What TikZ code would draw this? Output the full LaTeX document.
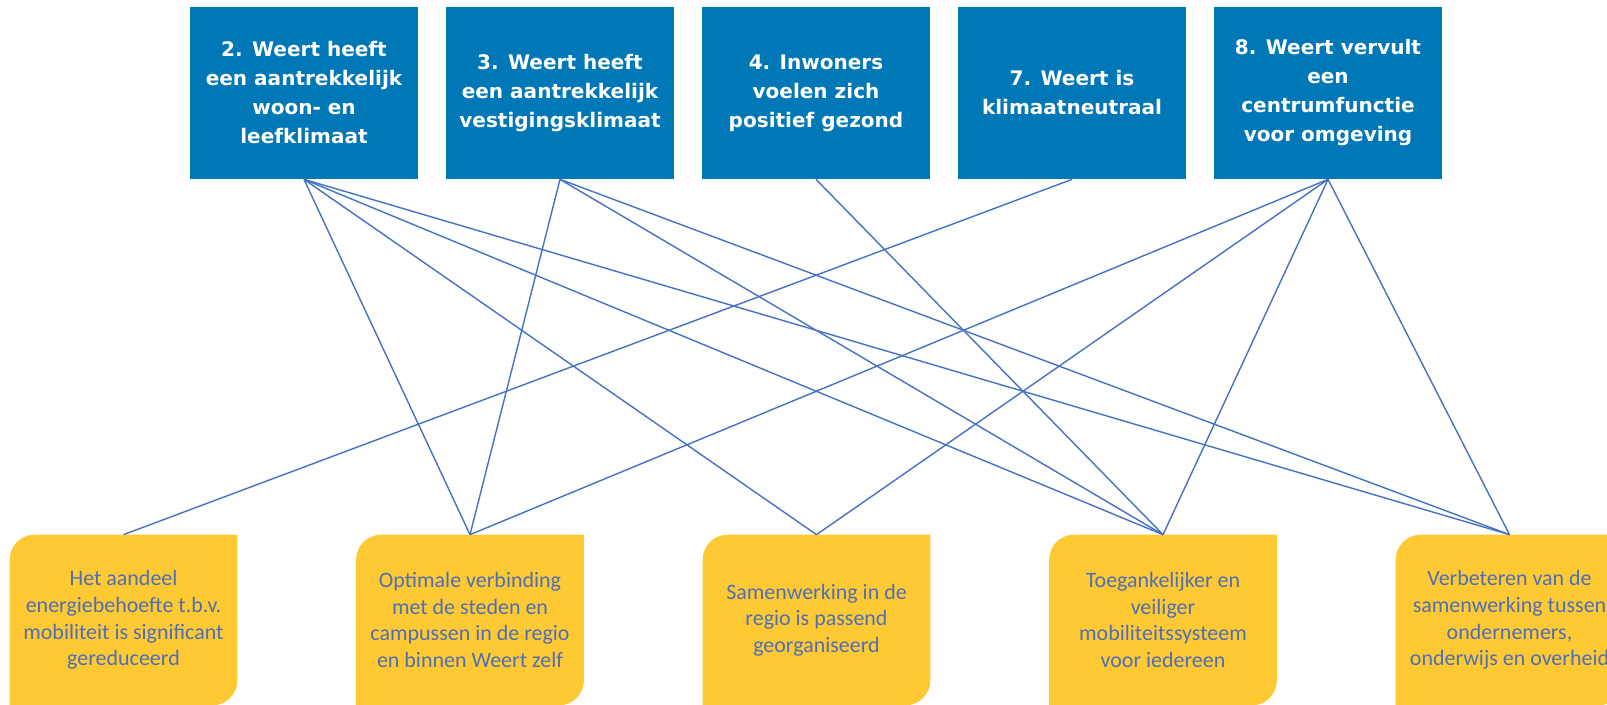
\documentclass[tikz,border=0pt]{standalone}
\usepackage{fontspec}
\setmainfont{Carlito}
\newfontfamily\goalfont{DejaVu Sans}
\usetikzlibrary{backgrounds}
\definecolor{goalblue}{HTML}{0077B6}
\definecolor{subyellow}{HTML}{FFC933}
\definecolor{linkblue}{HTML}{4472C4}
\definecolor{subtext}{HTML}{4F6FB5}

\begin{document}
\begin{tikzpicture}[
        node distance=5.12cm,
        goal/.style={rectangle, minimum width=4.56cm, minimum height=3.44cm, fill=goalblue, text=white, align=center, font=\goalfont\bfseries\fontsize{11.4}{16.5}\selectfont},
        sub/.style={rectangle, minimum width=4.54cm, minimum height=3.4cm, text=subtext, align=center, font=\fontsize{12.5}{15.2}\selectfont},
        link/.style={draw=linkblue, line width=0.8pt}
    ]
        \useasboundingbox (0,0) rectangle (32.14,14.08);

        \node[goal] (g2) at (6.08,12.22) {2. Weert heeft\\een aantrekkelijk\\woon- en\\leefklimaat};
        \node[goal, right of=g2] (g3) {3. Weert heeft\\een aantrekkelijk\\vestigingsklimaat};
        \node[goal, right of=g3] (g4) {4. Inwoners\\voelen zich\\positief gezond};
        \node[goal, right of=g4] (g7) {7. Weert is\\klimaatneutraal};
        \node[goal, right of=g7] (g8) {8. Weert vervult\\een\\centrumfunctie\\voor omgeving};

        \node[sub] (sa) at (2.47,1.68) {Het aandeel\\energiebehoefte t.b.v.\\mobiliteit is significant\\gereduceerd};
        \node[sub, right of=sa, xshift=1.81cm] (sb) {Optimale verbinding\\met de steden en\\campussen in de regio\\en binnen Weert zelf};
        \node[sub, right of=sb, xshift=1.81cm] (sc) {Samenwerking in de\\regio is passend\\georganiseerd};
        \node[sub, right of=sc, xshift=1.81cm] (sd) {Toegankelijker en\\veiliger\\mobiliteitssysteem\\voor iedereen};
        \node[sub, right of=sd, xshift=1.81cm] (se) {Verbeteren van de\\samenwerking tussen\\ondernemers,\\onderwijs en overheid};

        \begin{scope}[on background layer]
            \foreach \s in {sa,sb,sc,sd,se}
                \fill[subyellow] (\s.south west) -- ([yshift=-0.5cm]\s.north west) arc[start angle=180, end angle=90, radius=0.5cm]
                    -- (\s.north east) -- ([yshift=0.5cm]\s.south east) arc[start angle=0, end angle=-90, radius=0.5cm] -- cycle;
        \end{scope}

        \foreach \a/\b in {g2/sb, g2/sc, g2/sd, g2/se, g3/sb, g3/sd, g3/se, g4/sd, g7/sa, g8/sb, g8/sc, g8/sd, g8/se}
            \draw[link] (\a.south) -- (\b.north);
    \end{tikzpicture}
\end{document}
